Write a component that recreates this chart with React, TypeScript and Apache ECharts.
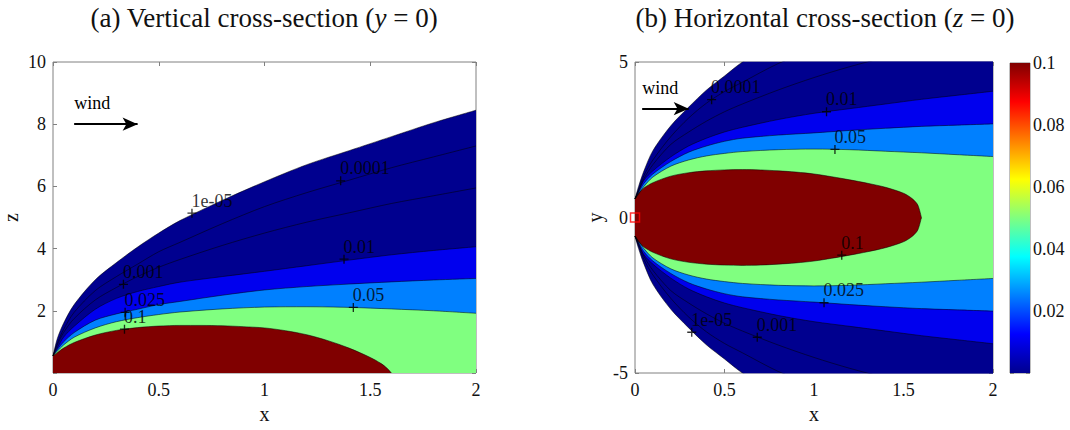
import React, { useEffect, useRef } from "react";
import * as echarts from "echarts";

// ---------- data ----------
const LEVEL_LABELS = ["1e-05", "0.0001", "0.001", "0.01", "0.025", "0.05", "0.1"];
const BAND_COLORS = ["#00008F", "#00008F", "#00008F", "#0000EE", "#0080FF", "#80FF80", "#800000"];

const X_GRID = [0, 0.02, 0.05, 0.1, 0.2, 0.3, 0.4, 0.5, 0.6, 0.8, 1.0, 1.2, 1.4, 1.6, 1.8, 2.0];
const X_RED = [0, 0.02, 0.05, 0.1, 0.2, 0.3, 0.4, 0.5, 0.6, 0.7, 0.8, 0.9, 1.0, 1.1, 1.2, 1.3, 1.4, 1.5, 1.55, 1.58, 1.6];

// (a) vertical cross-section: contour height z at X_GRID
const V_1E5 = [0.55, 1.1, 1.6, 2.2, 3.0, 3.55, 4.05, 4.5, 4.9, 5.55, 6.15, 6.7, 7.15, 7.6, 8.05, 8.45];
const V_1E4 = [0.55, 0.95, 1.4, 1.95, 2.65, 3.1, 3.5, 3.9, 4.2, 4.8, 5.35, 5.8, 6.2, 6.6, 6.95, 7.3];
const V_1E3 = [0.55, 0.9, 1.3, 1.75, 2.35, 2.75, 3.1, 3.4, 3.65, 4.1, 4.5, 4.85, 5.15, 5.45, 5.7, 5.95];
const V_010 = [0.55, 0.8, 1.15, 1.5, 2.05, 2.4, 2.62, 2.78, 2.92, 3.1, 3.27, 3.45, 3.63, 3.8, 3.94, 4.06];
const V_025 = [0.55, 0.75, 1.0, 1.3, 1.7, 1.9, 2.05, 2.2, 2.3, 2.5, 2.67, 2.78, 2.86, 2.93, 2.99, 3.04];
const V_050 = [0.55, 0.7, 0.9, 1.15, 1.45, 1.65, 1.78, 1.88, 1.96, 2.06, 2.12, 2.13, 2.11, 2.06, 2.0, 1.92];
const V_100 = [0.55, 0.65, 0.8, 0.98, 1.22, 1.37, 1.46, 1.51, 1.53, 1.53, 1.52, 1.49, 1.45, 1.36, 1.23, 1.04, 0.8, 0.5, 0.31, 0.15, 0];

// (b) horizontal cross-section: contour half-width y at X_GRID (symmetric)
const H_1E5 = [0.6, 1.0, 1.5, 2.15, 2.95, 3.55, 4.1, 4.55, 5.0, 5.7, 6.3, 6.85, 7.35, 7.8, 8.25, 8.7];
const H_1E4 = [0.6, 0.9, 1.35, 1.85, 2.6, 3.2, 3.68, 4.05, 4.35, 4.95, 5.4, 5.8, 6.2, 6.5, 6.8, 7.1];
const H_1E3 = [0.6, 0.85, 1.25, 1.7, 2.35, 2.75, 3.1, 3.4, 3.65, 4.1, 4.5, 4.85, 5.15, 5.4, 5.7, 5.95];
const H_010 = [0.6, 0.85, 1.2, 1.5, 1.95, 2.3, 2.55, 2.75, 2.9, 3.15, 3.35, 3.5, 3.65, 3.8, 3.93, 4.06];
const H_025 = [0.6, 0.8, 1.1, 1.4, 1.8, 2.1, 2.3, 2.45, 2.55, 2.65, 2.72, 2.8, 2.87, 2.93, 2.97, 3.01];
const H_050 = [0.6, 0.75, 1.0, 1.3, 1.65, 1.85, 1.98, 2.06, 2.12, 2.18, 2.2, 2.18, 2.13, 2.08, 2.02, 1.96];
const H_100 = [0.6, 0.78, 0.95, 1.12, 1.33, 1.44, 1.5, 1.53, 1.54, 1.53, 1.5, 1.46, 1.4, 1.31, 1.21, 1.1, 0.97, 0.78, 0.6, 0.4, 0];

// contour label anchors (same order as LEVEL_LABELS)
const V_LABEL_X = [0.657, 1.36, 0.333, 1.376, 0.341, 1.42, 0.338];
const V_LABEL_Z = [5.14, 6.18, 2.85, 3.66, 1.95, 2.11, 1.41];
const H_LABEL_X = [0.317, 0.428, 0.683, 1.07, 1.056, 1.117, 1.155];
const H_LABEL_Y = [-3.69, 3.79, -3.85, 3.4, -2.74, 2.19, -1.21];

// wind arrows
const V_WIND_X = [0.1, 0.4];
const V_WIND_Z = 8;
const H_WIND_X = [0.04, 0.3];
const H_WIND_Y = 3.5;

const SOURCE = [0, 0];
const CBAR_MAX = 0.1;

const FONT = '"Liberation Serif", "Times New Roman", serif';

const JET_STOPS = [
  { offset: 0, color: "#800000" },
  { offset: 0.125, color: "#FF0000" },
  { offset: 0.375, color: "#FFFF00" },
  { offset: 0.625, color: "#00FFFF" },
  { offset: 0.875, color: "#0000FF" },
  { offset: 1, color: "#00008F" },
];

function area(xs: number[], ys: number[], color: string, idx: number, sign = 1, origin = 0) {
  return {
    type: "line",
    xAxisIndex: idx,
    yAxisIndex: idx,
    data: xs.map((x, i) => [x, sign * ys[i]]),
    smooth: 0.3,
    showSymbol: false,
    symbol: "none",
    silent: true,
    lineStyle: { color: "#000", width: 0.6, opacity: 0.85 },
    areaStyle: { color, opacity: 1, origin },
  };
}

const tickStyle = { lineStyle: { color: "#808080", width: 1 } };
const labelStyle = { fontFamily: FONT, fontSize: 18, color: "#111" };
const nameStyle = { fontFamily: FONT, fontSize: 20, color: "#111" };

function valueAxis(grid: number, min: number, max: number, interval: number, position: string, showLabel: boolean, extra: any = {}) {
  return {
    type: "value",
    gridIndex: grid,
    min,
    max,
    interval,
    position,
    axisLine: { show: false, onZero: false },
    splitLine: { show: false },
    axisTick: { show: true, inside: true, length: 4, ...tickStyle },
    axisLabel: { show: showLabel, ...labelStyle, margin: 8 },
    ...extra,
  };
}

function titleText(x: number, prefix: string, v: string) {
  return {
    type: "text",
    x,
    y: 18,
    silent: true,
    style: {
      text: `{r|${prefix} (}{i|${v}}{r| = 0)}`,
      align: "center",
      verticalAlign: "middle",
      fill: "#111",
      rich: {
        r: { fontFamily: FONT, fontSize: 27, fill: "#111" },
        i: { fontFamily: FONT, fontSize: 27, fontStyle: "italic", fill: "#111" },
      },
    },
  };
}

export default function App() {
  const ref = useRef<HTMLDivElement>(null);
  useEffect(() => {
    if (!ref.current) return;
    const chart = echarts.init(ref.current, null, { renderer: "svg" });

    const vCurves = [V_1E5, V_1E4, V_1E3, V_010, V_025, V_050];
    const hCurves = [H_1E5, H_1E4, H_1E3, H_010, H_025, H_050];

    const series: any[] = [];
    vCurves.forEach((c, i) => series.push(area(X_GRID, c, BAND_COLORS[i], 0)));
    series.push(area(X_RED, V_100, BAND_COLORS[6], 0));
    hCurves.forEach((c, i) => {
      series.push(area(X_GRID, c, BAND_COLORS[i], 1, 1, -0.04));
      series.push(area(X_GRID, c, BAND_COLORS[i], 1, -1, 0));
    });
    series.push(area(X_RED, H_100, BAND_COLORS[6], 1, 1, -0.04));
    series.push(area(X_RED, H_100, BAND_COLORS[6], 1, -1, 0));

    const plus = "path://M4,0h1.4v4h4v1.4h-4v4h-1.4v-4h-4v-1.4h4z";
    const labelSeries = (idx: number, xs: number[], ys: number[], wx: number[], wy: number) => ({
      type: "scatter",
      xAxisIndex: idx,
      yAxisIndex: idx,
      symbol: plus,
      symbolSize: 9,
      silent: true,
      z: 5,
      itemStyle: { color: "#000" },
      data: xs.map((x, i) => [x, ys[i], LEVEL_LABELS[i]]),
      label: {
        show: true,
        position: [4, -17],
        align: "left",
        verticalAlign: "top",
        formatter: (p: any) => p.value[2],
        fontFamily: FONT,
        fontSize: 18,
        color: "#000",
      },
      markLine: {
        silent: true,
        symbol: ["none", "arrow"],
        symbolSize: [10, 15],
        lineStyle: { color: "#000", width: 2, type: "solid" },
        label: {
          show: true,
          formatter: "wind",
          position: "insideStartTop",
          distance: [0, 12],
          fontFamily: FONT,
          fontSize: 18,
          color: "#000",
        },
        data: [[{ coord: [wx[0], wy] }, { coord: [wx[1], wy] }]],
      },
    });
    series.push(labelSeries(0, V_LABEL_X, V_LABEL_Z, V_WIND_X, V_WIND_Z));
    series.push(labelSeries(1, H_LABEL_X, H_LABEL_Y, H_WIND_X, H_WIND_Y));

    series.push({
      type: "scatter",
      xAxisIndex: 1,
      yAxisIndex: 1,
      symbol: "rect",
      symbolSize: 9,
      clip: false,
      silent: true,
      z: 6,
      itemStyle: { color: "rgba(0,0,0,0)", borderColor: "#FF0000", borderWidth: 1.5 },
      data: [SOURCE],
    });

    series.push({
      type: "bar",
      xAxisIndex: 2,
      yAxisIndex: 2,
      barWidth: "100%",
      silent: true,
      data: [CBAR_MAX],
      itemStyle: {
        color: { type: "linear", x: 0, y: 0, x2: 0, y2: 1, colorStops: JET_STOPS },
      },
    });

    const hideZero = (v: number) => (v === 0 ? "" : String(v));

    chart.setOption({
      animation: false,
      backgroundColor: "#fff",
      grid: [
        { left: 53, top: 62, width: 423, height: 311, show: true, borderColor: "#808080", borderWidth: 1, backgroundColor: "transparent", containLabel: false },
        { left: 635, top: 62, width: 358, height: 311, show: true, borderColor: "#808080", borderWidth: 1, backgroundColor: "transparent", containLabel: false },
        { left: 1010, top: 63, width: 20, height: 310, show: true, borderColor: "#808080", borderWidth: 1, backgroundColor: "transparent", containLabel: false },
      ],
      xAxis: [
        valueAxis(0, 0, 2, 0.5, "bottom", true, { name: "x", nameLocation: "middle", nameGap: 31, nameTextStyle: nameStyle }),
        valueAxis(1, 0, 2, 0.5, "bottom", true, { name: "x", nameLocation: "middle", nameGap: 31, nameTextStyle: nameStyle }),
        { type: "category", gridIndex: 2, data: ["c"], show: false },
        valueAxis(0, 0, 2, 0.5, "top", false),
        valueAxis(1, 0, 2, 0.5, "top", false),
      ],
      yAxis: [
        valueAxis(0, 0, 10, 2, "left", true, { axisLabel: { ...labelStyle, margin: 7, formatter: hideZero }, name: "z", nameLocation: "middle", nameGap: 32, nameRotate: 90, nameTextStyle: nameStyle }),
        valueAxis(1, -5, 5, 5, "left", true, { axisLabel: { ...labelStyle, margin: 7 }, name: "y", nameLocation: "middle", nameGap: 30, nameRotate: 90, nameTextStyle: nameStyle }),
        valueAxis(2, 0, CBAR_MAX, 0.02, "right", true, { axisLabel: { ...labelStyle, margin: 3, formatter: hideZero } }),
        valueAxis(0, 0, 10, 2, "right", false),
        valueAxis(1, -5, 5, 5, "right", false),
        valueAxis(2, 0, CBAR_MAX, 0.02, "left", false),
      ],
      graphic: [
        titleText(264, "(a) Vertical cross-section", "y"),
        titleText(825, "(b) Horizontal cross-section", "z"),
      ],
      series,
    });

    return () => chart.dispose();
  }, []);

  return <div ref={ref} style={{ position: "fixed", left: 0, top: 0, width: 1070, height: 430, background: "#fff" }} />;
}
